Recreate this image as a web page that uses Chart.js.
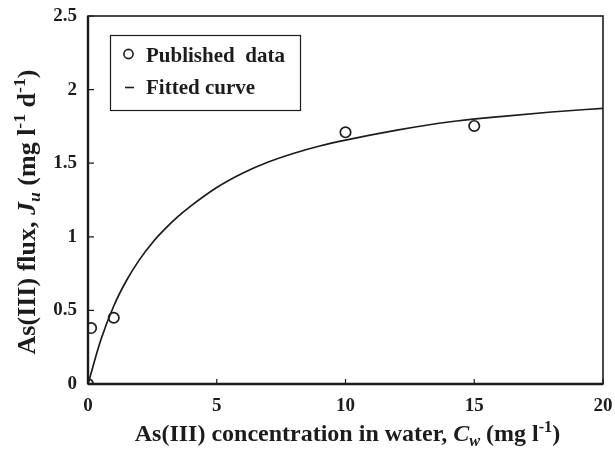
<!DOCTYPE html>
<html><head><meta charset="utf-8">
<script src="https://cdn.jsdelivr.net/npm/chart.js@4/dist/chart.umd.min.js"></script>
<style>html,body{margin:0;padding:0;background:#fff}#wrap{width:615px;height:451px}</style>
</head><body><div id="wrap"><canvas id="c" width="615" height="451"></canvas></div>
<script>
// Data
const dataX = [0, 0.12, 1.0, 10.0, 15.0];
const dataY = [0, 0.38, 0.45, 1.71, 1.753];
const fitX = [0, 0.5, 1, 1.5, 2, 2.5, 3, 3.5, 4, 5, 6, 7, 8, 9, 10, 12, 14, 16, 18, 20];
const fitY = [0, 0.30, 0.53, 0.705, 0.845, 0.96, 1.055, 1.138, 1.21, 1.335, 1.432, 1.508, 1.568, 1.617, 1.657, 1.725, 1.78, 1.817, 1.848, 1.873];
const xTicks = [0, 5, 10, 15, 20];
const yTicks = [0, 0.5, 1, 1.5, 2, 2.5];
const seriesLabels = ['Published  data', 'Fitted curve'];

const INK = '#1c1c1c';
const FONT = '"Liberation Serif", "Times New Roman", serif';

function drawRich(ctx, segs, size) {
  const parts = segs.map(([t, s]) => {
    const small = (s === 'sub' || s === 'sup' || s === 'isub');
    const ital = (s === 'i' || s === 'isub');
    const fs = small ? size * 0.68 : size;
    const font = (ital ? 'italic ' : '') + 'bold ' + fs + 'px ' + FONT;
    ctx.font = font;
    const w = ctx.measureText(t).width;
    const dy = s === 'sup' ? -size * 0.38 : (s === 'sub' || s === 'isub') ? size * 0.2 : 0;
    return { t, font, w, dy };
  });
  const total = parts.reduce((a, p) => a + p.w, 0);
  let x = -total / 2;
  ctx.textBaseline = 'alphabetic';
  ctx.textAlign = 'left';
  for (const p of parts) {
    ctx.font = p.font;
    ctx.fillText(p.t, x, p.dy);
    x += p.w;
  }
}

const decor = {
  id: 'decor',
  afterDraw(chart) {
    const ctx = chart.ctx;
    const a = chart.chartArea;
    const xs = chart.scales.x, ys = chart.scales.y;
    ctx.save();
    ctx.strokeStyle = INK;
    ctx.fillStyle = INK;
    // frame
    ctx.lineWidth = 1.6;
    ctx.strokeRect(a.left, a.top, a.right - a.left, a.bottom - a.top);
    ctx.lineWidth = 2.4;
    ctx.beginPath();
    ctx.moveTo(a.left, a.bottom); ctx.lineTo(a.right, a.bottom);
    ctx.moveTo(a.left, a.top); ctx.lineTo(a.left, a.bottom);
    ctx.stroke();
    // inward ticks
    ctx.lineWidth = 1.2;
    ctx.beginPath();
    xTicks.forEach(v => { const p = xs.getPixelForValue(v); ctx.moveTo(p, a.bottom); ctx.lineTo(p, a.bottom - 5); });
    yTicks.forEach(v => { const p = ys.getPixelForValue(v); ctx.moveTo(a.left, p); ctx.lineTo(a.left + 6, p); });
    ctx.stroke();
    // legend
    ctx.lineWidth = 1.2;
    ctx.strokeRect(110.5, 35.5, 190, 75);
    ctx.lineWidth = 1.6;
    ctx.beginPath(); ctx.arc(128.5, 54, 4.6, 0, Math.PI * 2); ctx.stroke();
    ctx.beginPath(); ctx.moveTo(125, 87.5); ctx.lineTo(134, 87.5); ctx.stroke();
    ctx.font = 'bold 21px ' + FONT;
    ctx.textBaseline = 'alphabetic';
    ctx.textAlign = 'left';
    ctx.fillText(seriesLabels[0], 146, 62);
    ctx.fillText(seriesLabels[1], 146, 94);
    // axis titles
    ctx.save();
    ctx.translate((a.left + a.right) / 2 + 2, 441);
    drawRich(ctx, [['As(III) concentration in water, ', 'n'], ['C', 'i'], ['w', 'isub'], [' (mg l', 'n'], ['-1', 'sup'], [')', 'n']], 24);
    ctx.restore();
    ctx.save();
    ctx.translate(35, 212);
    ctx.rotate(-Math.PI / 2);
    drawRich(ctx, [['As(III) flux, ', 'n'], ['J', 'i'], ['u', 'isub'], [' (mg l', 'n'], ['-1', 'sup'], [' d', 'n'], ['-1', 'sup'], [')', 'n']], 26);
    ctx.restore();
    ctx.restore();
  }
};

new Chart(document.getElementById('c'), {
  type: 'scatter',
  data: {
    datasets: [
      {
        label: seriesLabels[0],
        data: dataX.map((x, i) => ({ x, y: dataY[i] })),
        showLine: false,
        pointStyle: 'circle',
        pointRadius: 5.2,
        borderWidth: 1.7,
        borderColor: INK,
        backgroundColor: 'rgba(255,255,255,0)',
        order: 1
      },
      {
        label: seriesLabels[1],
        data: fitX.map((x, i) => ({ x, y: fitY[i] })),
        showLine: true,
        pointRadius: 0,
        borderWidth: 1.7,
        borderColor: INK,
        fill: false,
        cubicInterpolationMode: 'monotone',
        order: 2
      }
    ]
  },
  options: {
    responsive: false,
    animation: false,
    layout: { padding: { left: 0, right: 12, top: 16, bottom: 0 } },
    plugins: { legend: { display: false }, tooltip: { enabled: false } },
    scales: {
      x: {
        type: 'linear', min: 0, max: 20,
        afterBuildTicks: s => { s.ticks = xTicks.map(v => ({ value: v })); },
        afterFit: s => { s.height = 67; s.paddingLeft = 0; s.paddingRight = 0; },
        grid: { display: false, drawTicks: false },
        border: { display: false },
        ticks: { color: INK, padding: 11, font: { family: FONT, size: 19, weight: 'bold' }, maxRotation: 0, callback: v => String(v) }
      },
      y: {
        type: 'linear', min: 0, max: 2.5,
        afterBuildTicks: s => { s.ticks = yTicks.map(v => ({ value: v })); },
        afterFit: s => { s.width = 88; s.paddingTop = 0; s.paddingBottom = 0; },
        grid: { display: false, drawTicks: false },
        border: { display: false },
        ticks: { color: INK, padding: 11, font: { family: FONT, size: 19, weight: 'bold' }, callback: v => String(v) }
      }
    }
  },
  plugins: [decor]
});
</script>
</body></html>
